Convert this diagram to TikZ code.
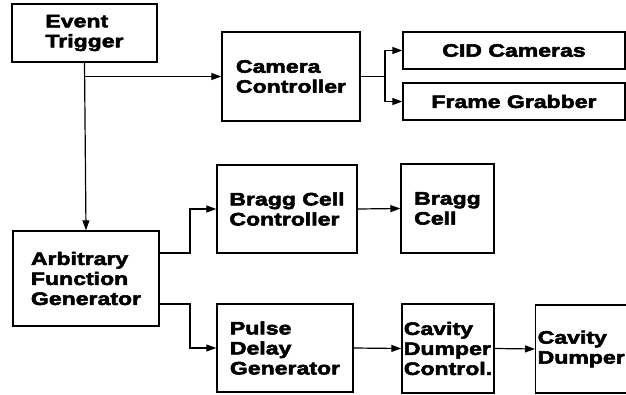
\documentclass[tikz,border=0pt]{standalone}
\usepackage{fontspec}
\newfontfamily\blockfont{Liberation Sans}[BoldFeatures={FakeStretch=1.28,FakeBold=3}]
\usetikzlibrary{arrows.meta}

\begin{document}
\begin{tikzpicture}[x=1pt,y=-1pt,
    blk/.style={draw,line width=1.4pt,align=left,inner sep=0pt,
        font=\blockfont\bfseries\fontsize{18}{20}\selectfont},
    conn/.style={line width=1.2pt},
    arr/.style={conn,-{Triangle[length=10pt,width=7pt]}}]
\useasboundingbox (0,0) rectangle (626,394);

% top row
\node[blk,minimum width=145pt,minimum height=58pt] (trig) at (84.5,33) {Event\\Trigger};
\node[blk,minimum width=138pt,minimum height=89pt] (cam) at (291,76.5) {Camera\\Controller};
\node[blk,minimum width=222pt,minimum height=37pt] (cid) at (514,50.5) {CID Cameras};
\node[blk,minimum width=222pt,minimum height=37pt] (fg) at (514,101.5) {Frame Grabber};

% middle and bottom rows
\node[blk,minimum width=146pt,minimum height=95pt] (afg) at (86,278.5) {Arbitrary\\Function\\Generator};
\node[blk,minimum width=140pt,minimum height=88pt] (bcc) at (287,209) {Bragg Cell\\Controller};
\node[blk,minimum width=93pt,minimum height=89pt] (bc) at (447.5,208.5) {Bragg\\Cell};
\node[blk,minimum width=136pt,minimum height=88pt] (pdg) at (285,348) {Pulse\\Delay\\Generator};
\node[blk,minimum width=92pt,minimum height=89pt] (cdc) at (448,348.5) {Cavity\\Dumper\\Control.};
\node[blk,anchor=west,text width=100pt,inner xsep=2pt,minimum height=88pt] (cd) at (535,349) {Cavity\\Dumper};

% connectors
\coordinate (split) at (385,76.5);
\coordinate (afgup) at (159,253);
\coordinate (afgdn) at (159,304);
\draw[arr] (trig.south) -- (afg.north);
\draw[arr] (trig.south |- cam.west) -- (cam.west);
\draw[conn] (cam.east) -- (split);
\draw[arr] (split) |- (cid.west);
\draw[arr] (split) |- (fg.west);
\draw[arr] (afgup) -- (190,253) |- (bcc.west);
\draw[arr] (afgdn) -- (190,304) |- (pdg.west);
\draw[arr] (bcc.east) -- (bc.west);
\draw[arr] (pdg.east) -- (cdc.west);
\draw[arr] (cdc.east) -- (cd.west);
\end{tikzpicture}
\end{document}
